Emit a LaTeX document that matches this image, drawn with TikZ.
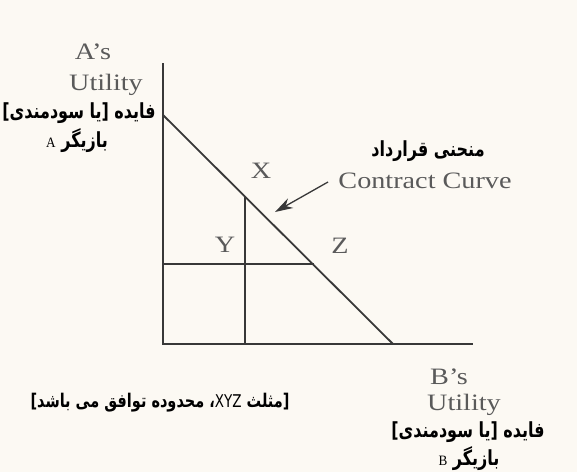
\documentclass[tikz,border=0pt]{standalone}
\usepackage{fontspec}
\usepackage{graphicx}
\TeXXeTstate=1
\setmainfont{Liberation Serif}
\newfontfamily\engfont[FakeStretch=1.2]{Liberation Serif}
\newfontfamily\arabicfont[Script=Arabic]{DejaVu Sans}
\newfontfamily\latsans{DejaVu Sans}
\newcommand\smallab[1]{{\engfont\mdseries\fontsize{11}{11}\selectfont #1}}
\newcommand\tallfa[1]{\scalebox{1}[1.3]{#1}}
\usetikzlibrary{arrows.meta}
\definecolor{bgcol}{HTML}{FCF9F3}
\definecolor{engcol}{HTML}{5A5A5A}
\definecolor{linecol}{HTML}{383838}
\begin{document}
\begin{tikzpicture}[x=1pt,y=-1pt,
  eng/.style={font=\engfont\fontsize{23.5}{23.5}\selectfont, text=engcol, inner sep=0pt},
  fa/.style={font=\arabicfont\bfseries\fontsize{16}{16}\selectfont, text=black, inner sep=0pt},
  fanote/.style={font=\arabicfont\bfseries\fontsize{14.5}{14.5}\selectfont, text=black, inner sep=0pt},
  axisline/.style={draw=linecol, line width=1.8pt},
  pointer/.style={draw=linecol, line width=1.3pt, -{Stealth[length=18pt,width=11pt]}}]
\fill[bgcol] (0,0) rectangle (577,472);
\useasboundingbox (0,0) rectangle (577,472);
% axes and lines
\coordinate (O) at (163,344);
\coordinate (Ytop) at (163,63);
\coordinate (Xend) at (473,344);
\coordinate (Dtop) at (163,115);
\coordinate (Dbot) at (393,344);
\coordinate (Vtop) at (245,197);
\coordinate (Vbot) at (245,344);
\coordinate (Hl) at (163,264);
\coordinate (Hr) at (314,264);
\draw[axisline] (Ytop) -- (O) -- (Xend);
\draw[axisline] (Dtop) -- (Dbot);
\draw[axisline] (Vtop) -- (Vbot);
\draw[axisline] (Hl) -- (Hr);
% labels, vertical axis
\node[eng] (as) at (93,52) {A’s};
\node[eng] (autil) at (106,85) {Utility};
\node[fa] (afa) at (79,113) {\tallfa{\beginR فایده \kern0pt[\kern0pt یا سودمندی\kern0pt]\endR}};
\node[fa] (apl) at (77,141) {\tallfa{\beginR بازیگر \beginL\smallab{A}\endL\endR}};
% points
\node[eng] (X) at (261,171) {X};
\node[eng] (Y) at (225,245) {Y};
\node[eng] (Z) at (340,246) {Z};
% contract curve label
\node[fa] (ccfa) at (428,151) {\tallfa{\beginR منحنی قرارداد\endR}};
\node[eng] (cc) at (425,181) {Contract Curve};
\coordinate (tip) at (275,212);
\coordinate (tail) at (328,182);
\draw[pointer] (tail) -- (tip);
% bottom note
\node[fanote] (bottom) at (160,403) {\tallfa{\beginR\kern0pt[\kern0pt مثلث \beginL{\latsans\mdseries\fontsize{13.5}{13.5}\selectfont XYZ}\endL\kern0pt،\kern0pt\ محدوده توافق می باشد\kern0pt]\endR}};
% labels, horizontal axis
\node[eng] (bs) at (449,377) {B’s};
\node[eng] (butil) at (464,405) {Utility};
\node[fa] (bfa) at (468,432) {\tallfa{\beginR فایده \kern0pt[\kern0pt یا سودمندی\kern0pt]\endR}};
\node[fa] (bpl) at (469,459) {\tallfa{\beginR بازیگر \beginL\smallab{B}\endL\endR}};
\end{tikzpicture}
\end{document}
